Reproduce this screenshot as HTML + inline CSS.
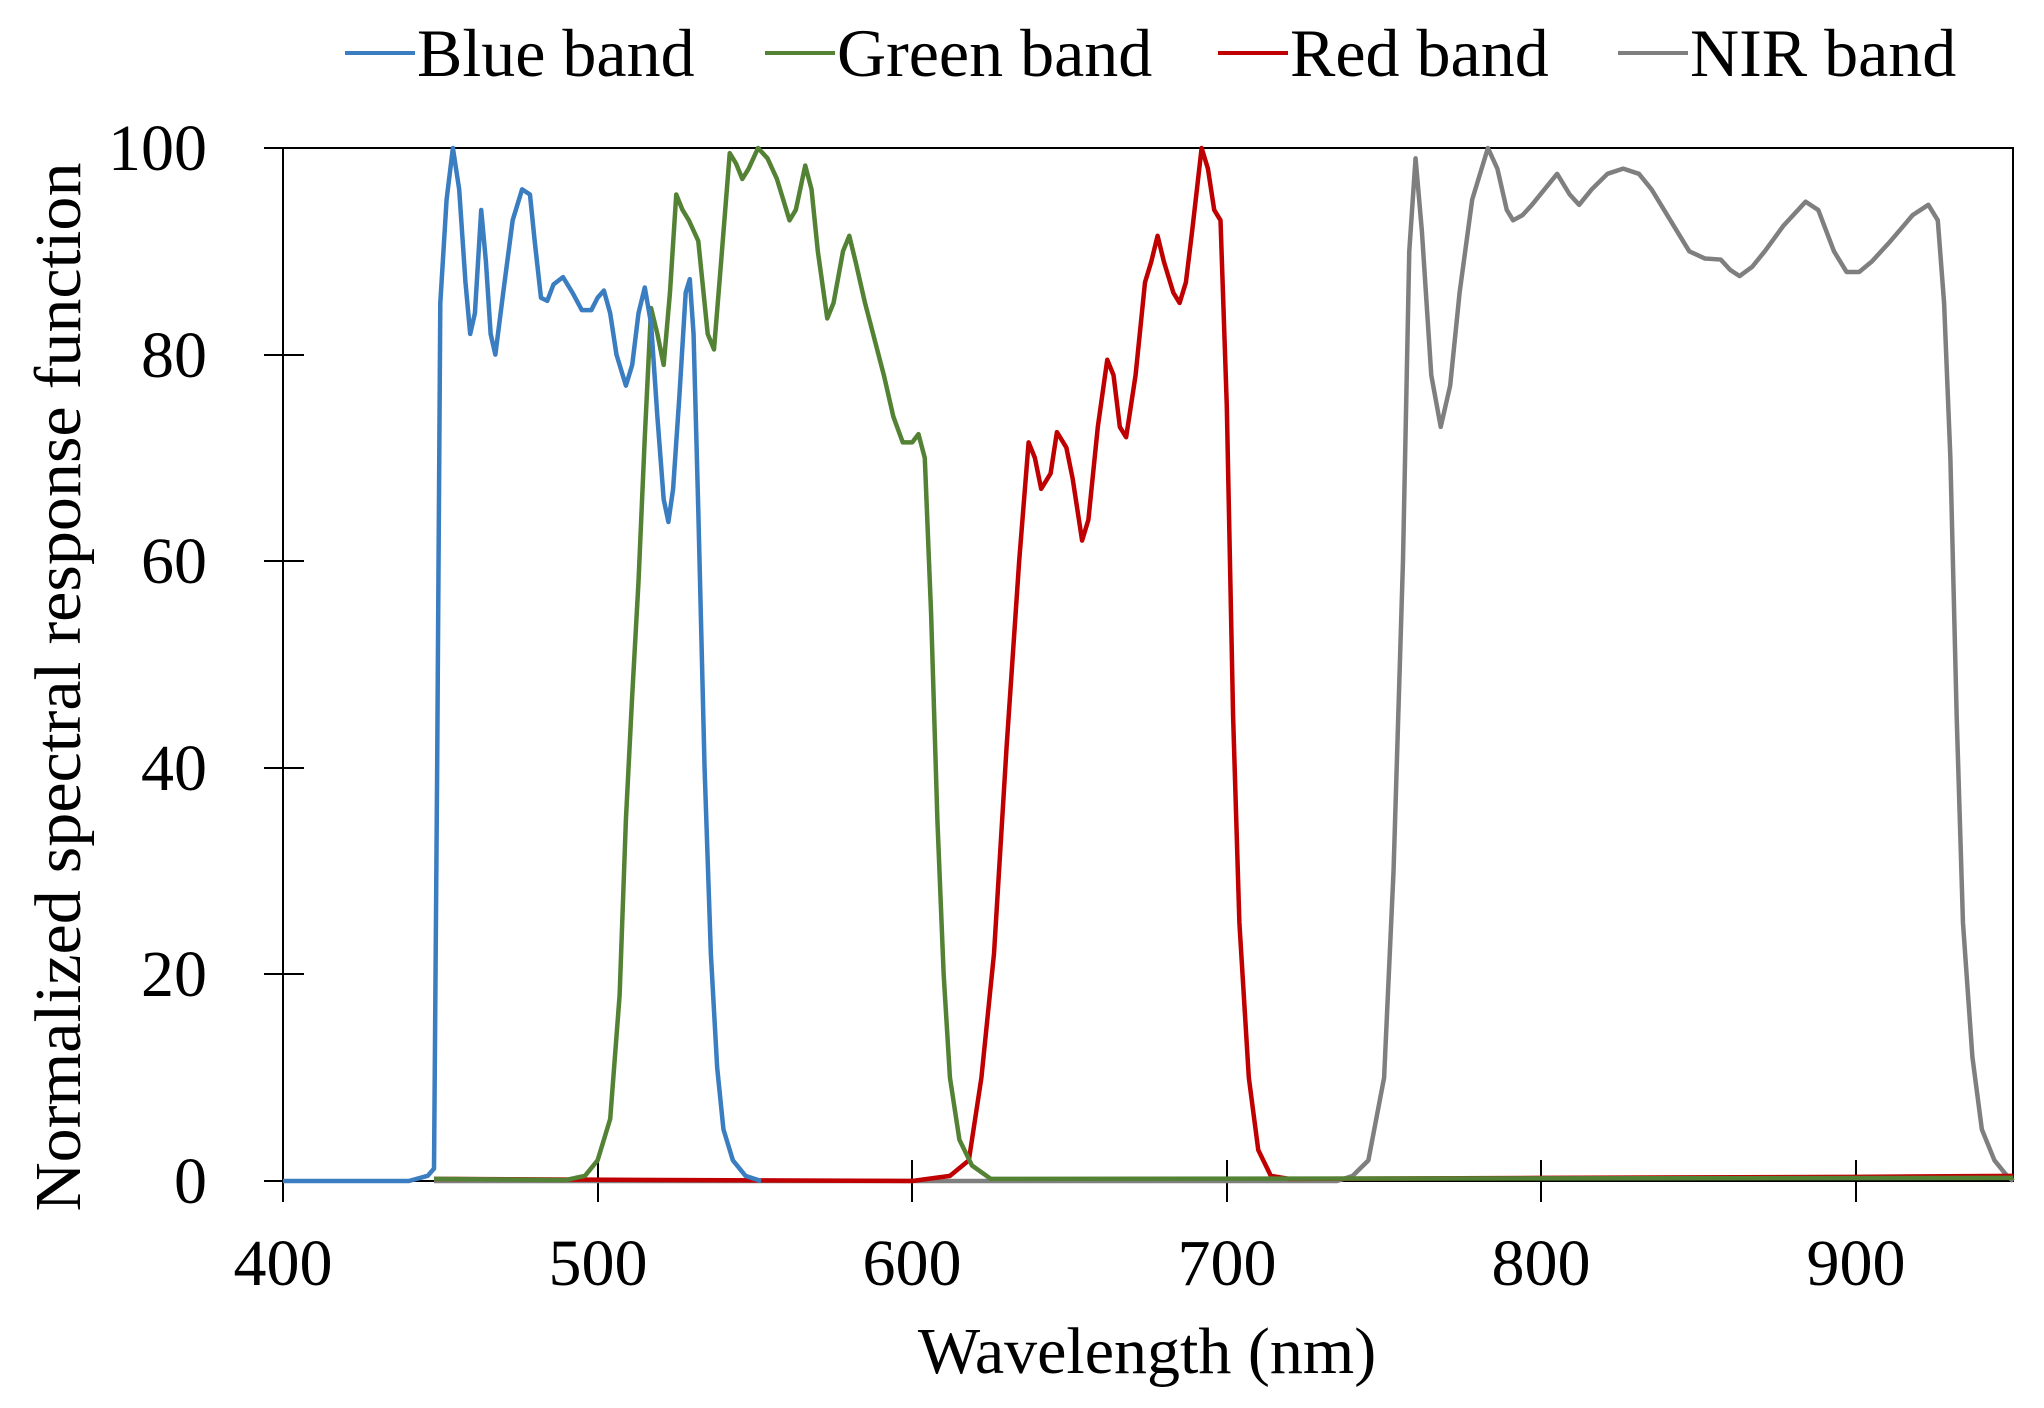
<!DOCTYPE html>
<html><head><meta charset="utf-8"><style>
html,body{margin:0;padding:0;background:#fff;}
svg{display:block;}
text{font-family:"Liberation Serif","Times New Roman",serif;fill:#000;}
</style></head><body>
<svg width="2044" height="1408" viewBox="0 0 2044 1408" xmlns="http://www.w3.org/2000/svg">
<rect width="2044" height="1408" fill="#fff"/>
<g font-size="68">
<line x1="345" y1="53" x2="415" y2="53" stroke="#3a7dc0" stroke-width="4"/>
<text x="417" y="76">Blue band</text>
<line x1="765" y1="53" x2="835" y2="53" stroke="#548235" stroke-width="4"/>
<text x="837" y="76">Green band</text>
<line x1="1218" y1="53" x2="1288" y2="53" stroke="#c00000" stroke-width="4"/>
<text x="1290" y="76">Red band</text>
<line x1="1618" y1="53" x2="1688" y2="53" stroke="#7f7f7f" stroke-width="4"/>
<text x="1690" y="76">NIR band</text>
</g>
<rect x="283" y="148" width="1730" height="1033" fill="none" stroke="#000" stroke-width="2"/>
<g stroke="#000" stroke-width="2">
<line x1="264" y1="148" x2="283" y2="148"/>
<line x1="264" y1="355" x2="304" y2="355"/>
<line x1="264" y1="561" x2="304" y2="561"/>
<line x1="264" y1="768" x2="304" y2="768"/>
<line x1="264" y1="974" x2="304" y2="974"/>
<line x1="264" y1="1181" x2="283" y2="1181"/>
<line x1="283" y1="1181" x2="283" y2="1202"/>
<line x1="598" y1="1160" x2="598" y2="1202"/>
<line x1="912" y1="1160" x2="912" y2="1202"/>
<line x1="1227" y1="1160" x2="1227" y2="1202"/>
<line x1="1541" y1="1160" x2="1541" y2="1202"/>
<line x1="1856" y1="1160" x2="1856" y2="1202"/>
</g>
<g font-size="66" text-anchor="end">
<text x="207" y="170">100</text>
<text x="207" y="377">80</text>
<text x="207" y="583">60</text>
<text x="207" y="790">40</text>
<text x="207" y="996">20</text>
<text x="207" y="1203">0</text>
</g>
<g font-size="66" text-anchor="middle">
<text x="283" y="1285">400</text>
<text x="598" y="1285">500</text>
<text x="912" y="1285">600</text>
<text x="1227" y="1285">700</text>
<text x="1541" y="1285">800</text>
<text x="1856" y="1285">900</text>
<text x="1147" y="1373">Wavelength (nm)</text>
<text transform="translate(80,687) rotate(-90)" textLength="1049" lengthAdjust="spacingAndGlyphs">Normalized spectral response function</text>
</g>
<g transform="translate(283,1181) scale(3.146,-10.33) translate(-400,0)" fill="none" stroke-width="4.5" stroke-linejoin="round">
<polyline vector-effect="non-scaling-stroke" stroke-width="4.5" stroke="#7f7f7f" points="448,0 735,0 740,0.5 745,2 750,10 753,30 756,60 758,90 760,99 762,92 765,78 768,73 771,77 774,86 778,95 783,100 786,98 789,94 791,93 794,93.5 797,94.5 801,96 805,97.5 809,95.5 812,94.5 816,96 821,97.5 826,98 831,97.5 835,96 841,93 847,90 852,89.3 857,89.2 860,88.2 863,87.6 867,88.5 871,90 877,92.5 884,94.8 888,94 893,90 897,88 901,88 905,89 911,91 918,93.5 923,94.5 926,93 928,85 930,70 932,45 934,25 937,12 940,5 944,2 948,0.5 950,0"/>
<polyline vector-effect="non-scaling-stroke" stroke-width="4.5" stroke="#c00000" points="448,0.2 520,0.1 600,0 612,0.5 618,2 622,10 626,22 630,42 634,60 637,71.5 639,70 641,67 644,68.5 646,72.5 649,71 651,68 654,62 656,64 659,73 662,79.5 664,78 666,73 668,72 671,78 674,87 676,89 678,91.5 680,89 683,86 685,85 687,87 689,92 692,100 694,98 696,94 698,93 700,75 702,45 704,25 707,10 710,3 714,0.5 720,0.2 800,0.3 900,0.4 950,0.5"/>
<polyline vector-effect="non-scaling-stroke" stroke-width="4.5" stroke="#548235" points="448,0.2 490,0.1 496,0.5 500,2 504,6 507,18 509,35 511,47 513,58 515,72 517,84.5 519,82 521,79 523,86 525,95.5 527,94 529,93 532,91 535,82 537,80.5 539,88 542,99.5 544,98.5 546,97 548,98 551,100 554,99 557,97 559,95 561,93 563,94 566,98.3 568,96 570,90 573,83.5 575,85 578,90 580,91.5 582,89 585,85 588,81.5 591,78 594,74 597,71.5 600,71.5 602,72.3 604,70 606,55 608,35 610,20 612,10 615,4 619,1.5 625,0.2 950,0.3"/>
<polyline vector-effect="non-scaling-stroke" stroke-width="4.5" stroke="#3a7dc0" points="400,0 440,0 446,0.5 448,1.2 449,40 450,85 452,95 454,100 456,96 458,87 459.5,82 461,84 463,94 464.5,89 466,82 467.5,80 470,86 473,93 476,96 478.5,95.5 480,91 482,85.5 484,85.2 486,86.8 489,87.5 492,86 495,84.3 498,84.3 500,85.5 502,86.2 504,84 506,80 509,77 511,79 513,84 515,86.5 517,83 519,74 521,66 522.5,63.8 524,67 526,76 528,86 529.3,87.3 530.5,82 532,65 534,40 536,22 538,11 540,5 543,2 547,0.5 552,0"/>
</g>
</svg>
</body></html>
